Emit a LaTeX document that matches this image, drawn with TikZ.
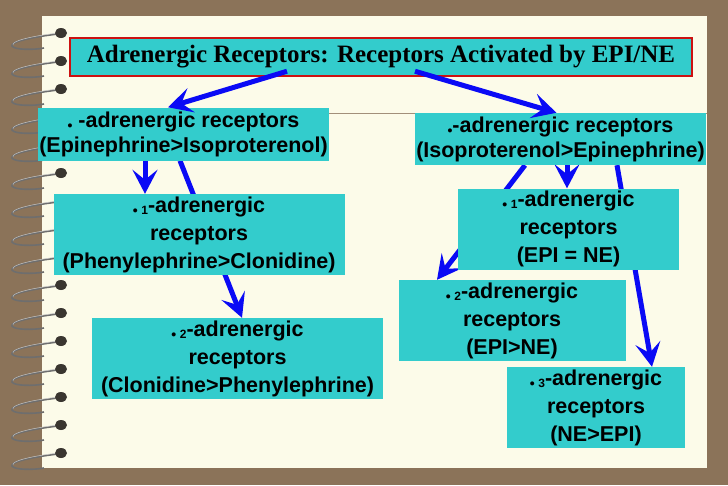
\documentclass[tikz,border=0pt]{standalone}
\usepackage{fontspec}
\setmainfont{Liberation Sans}
\newfontfamily\titlefont{Liberation Serif}
\usepackage{tikz}
\usetikzlibrary{arrows.meta}
\definecolor{paperbrown}{HTML}{8B7359}
\definecolor{pagecream}{HTML}{FCFBE9}
\definecolor{boxcyan}{HTML}{33CCCC}
\definecolor{arrowblue}{HTML}{0A0AF5}
\definecolor{titlered}{HTML}{CC1111}
\definecolor{ringgray}{HTML}{6E6E6E}
\definecolor{holegray}{HTML}{3A3630}
\pgfdeclarelayer{paper}
\pgfdeclarelayer{behind}
\pgfsetlayers{paper,behind,main}
\tikzstyle{titlebox}=[rectangle, draw=titlered, line width=2.5pt, fill=boxcyan, inner sep=0pt, font=\titlefont\bfseries\fontsize{25}{28}\selectfont]
\tikzstyle{classbox}=[rectangle, fill=boxcyan, inner sep=0pt, align=center, font=\bfseries\fontsize{21.5}{25}\selectfont]
\tikzstyle{typebox}=[rectangle, fill=boxcyan, inner sep=0pt, align=center, font=\bfseries\fontsize{21.5}{28}\selectfont]
\tikzstyle{link}=[draw=arrowblue, line width=5pt, -{Stealth[length=24pt, width=25pt, inset=10pt]}]
\newcommand{\bdot}{\raisebox{-3pt}{\fontsize{14}{14}\selectfont •}}
\newcommand{\subno}[1]{\raisebox{-2pt}{\fontsize{12}{12}\selectfont #1}}

\begin{document}
\begin{tikzpicture}[x=1pt, y=-1pt]
			\useasboundingbox (0,0) rectangle (728,485);
			% notebook page with its spiral
			\begin{pgfonlayer}{paper}
				\fill[paperbrown] (0,0) rectangle (728,485);
				\fill[pagecream] (42,16) rectangle (707,468);
				\draw[paperbrown!80, line width=0.8pt] (42,113) -- (707,113);
				\foreach \y in {33,61,...,453} {
					\draw[ringgray, line width=1.6pt] (58,\y+1) .. controls (32,\y+4) and (10,\y+9) .. (12,\y+13) .. controls (14,\y+17) and (34,\y+17) .. (44,\y+15);
					\draw[white!60!ringgray, line width=0.5pt] (58,\y) .. controls (32,\y+3) and (11,\y+8) .. (13,\y+12);
					\fill[holegray] (61,\y) ellipse [x radius=6pt, y radius=5pt];
				}
			\end{pgfonlayer}
			\node[titlebox, minimum width=622pt, minimum height=38pt] (title) at (381,57) {Adrenergic Receptors: Receptors Activated by EPI/NE};
			\node[classbox, minimum width=291pt, minimum height=53pt] (alpha) at (183.5,134) {\bdot\ -adrenergic receptors\\(Epinephrine>Isoproterenol)};
			\node[classbox, minimum width=291pt, minimum height=52pt] (beta) at (560.5,139) {\bdot-adrenergic receptors\\(Isoproterenol>Epinephrine)};
			\node[typebox, minimum width=291pt, minimum height=81pt] (alphaone) at (199,234.5) {\bdot\,\subno{1}-adrenergic\\receptors\\(Phenylephrine>Clonidine)};
			\node[typebox, minimum width=291pt, minimum height=81pt] (alphatwo) at (237.5,358.5) {\bdot\,\subno{2}-adrenergic\\receptors\\(Clonidine>Phenylephrine)};
			\node[typebox, minimum width=221pt, minimum height=81pt] (betaone) at (568.5,229) {\bdot\,\subno{1}-adrenergic\\receptors\\(EPI = NE)};
			\node[typebox, minimum width=227pt, minimum height=81pt] (betatwo) at (512,320.5) {\bdot\,\subno{2}-adrenergic\\receptors\\(EPI>NE)};
			\node[typebox, minimum width=178pt, minimum height=81pt] (betathree) at (596,407.5) {\bdot\,\subno{3}-adrenergic\\receptors\\(NE>EPI)};
			\draw[link] ([xshift=-94pt,yshift=6pt]title.south) -- ([xshift=-15.5pt]alpha.north);
			\draw[link] ([xshift=34pt,yshift=6pt]title.south) -- ([xshift=-4pt]beta.north);
			\begin{pgfonlayer}{behind}
				\draw[link] ([xshift=-38.5pt]alpha.south) -- ([xshift=-54pt]alphaone.north);
				\draw[link] ([xshift=-3.5pt]alpha.south) -- ([xshift=4.5pt]alphatwo.north);
				\draw[link] ([xshift=6.5pt]beta.south) -- ([xshift=-1.5pt]betaone.north);
				\draw[link] ([xshift=-35.5pt]beta.south) -- ([xshift=-75pt]betatwo.north);
				\draw[link] ([xshift=56.5pt]beta.south) -- ([xshift=56pt]betathree.north);
			\end{pgfonlayer}
		\end{tikzpicture}
\end{document}
